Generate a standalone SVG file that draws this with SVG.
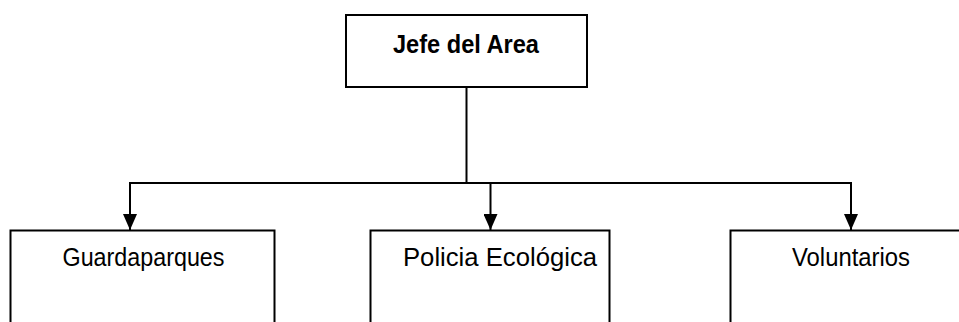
<svg xmlns="http://www.w3.org/2000/svg" width="959" height="322" viewBox="0 0 959 322">
<style>
.box{fill:#fff;stroke:#000;stroke-width:2}
.lbl{font-family:"Liberation Sans",Arial,sans-serif;font-size:26px;fill:#000;text-anchor:middle}
.b{font-weight:bold}
.con{fill:none;stroke:#000;stroke-width:2}
</style>
<defs>
<marker id="arr" markerUnits="userSpaceOnUse" markerWidth="16" markerHeight="14" refX="16" refY="7" orient="auto" viewBox="0 0 16 14">
<path d="M0 0 L16 7 L0 14 Z" fill="#000"/>
</marker>
</defs>
<rect width="959" height="322" fill="#fff"/>
<g id="connectors">
<path class="con" d="M466.5 87 V183"/>
<path class="con" d="M129 183 H852"/>
<path class="con" d="M130 183 V230" marker-end="url(#arr)"/>
<path class="con" d="M490.5 183 V230" marker-end="url(#arr)"/>
<path class="con" d="M851 183 V230" marker-end="url(#arr)"/>
</g>
<g id="jefe">
<rect class="box" x="346" y="15" width="241" height="72"/>
<text class="lbl b" x="466" y="53" textLength="146" lengthAdjust="spacingAndGlyphs">Jefe del Area</text>
</g>
<g id="guardaparques">
<rect class="box" x="10.5" y="230.5" width="264" height="110"/>
<text class="lbl" x="143.5" y="266" textLength="162" lengthAdjust="spacingAndGlyphs">Guardaparques</text>
</g>
<g id="policia">
<rect class="box" x="370.5" y="230.5" width="239" height="110"/>
<text class="lbl" x="500" y="266" textLength="194" lengthAdjust="spacingAndGlyphs">Policia Ecológica</text>
</g>
<g id="voluntarios">
<rect class="box" x="730.5" y="230.5" width="250" height="110"/>
<text class="lbl" x="851" y="266" textLength="118" lengthAdjust="spacingAndGlyphs">Voluntarios</text>
</g>
</svg>
